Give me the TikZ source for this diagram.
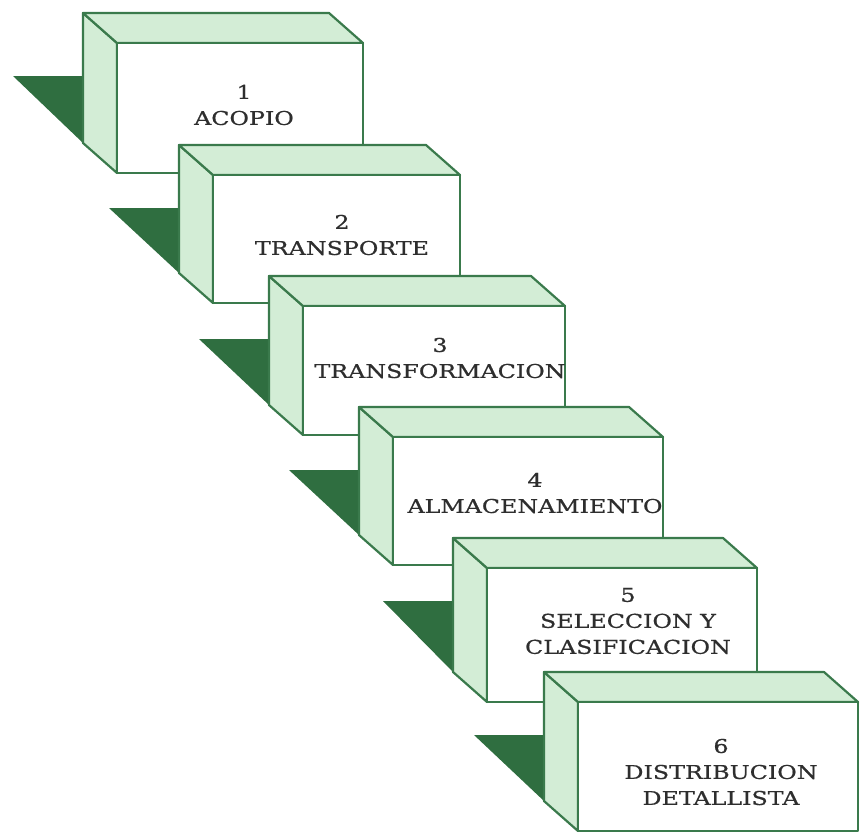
\documentclass[tikz,border=0pt]{standalone}
\usepackage{fontspec}
\newfontfamily\cajafont[FakeStretch=1.25, FakeBold=0.7]{DejaVu Serif}
\definecolor{verdeclaro}{HTML}{D3EDD6}
\definecolor{verdeborde}{HTML}{3A7A4C}
\definecolor{verdesombra}{HTML}{2F6E40}
\definecolor{gristexto}{HTML}{2E2E2E}

\begin{document}
\begin{tikzpicture}[x=1pt, y=-1pt, line join=round, sombra/.style={fill=verdesombra}, cara/.style={draw=verdeborde, line width=2.2pt, fill=verdeclaro}, frente/.style={draw=verdeborde, line width=2.2pt, fill=white}, etiqueta/.style={align=center, text=gristexto, font=\cajafont\fontsize{19}{26}\selectfont}]

\useasboundingbox (0,0) rectangle (861,833);

% cajas: izquierda/arriba/derecha/abajo de la cara frontal
\foreach \l/\t/\r/\b in {117/43/363/173, 213/175/460/303, 303/306/565/435, 393/437/663/565, 487/568/757/702, 578/702/858/831} {
  \fill[sombra] (\l-104, \t+33) -- (\l-34, \t+33) -- (\l-34, \b-30) -- cycle;
  \filldraw[cara] (\l, \t) -- (\l-34, \t-30) -- (\l-34, \b-30) -- (\l, \b) -- cycle;
  \filldraw[cara] (\l, \t) -- (\l-34, \t-30) -- (\r-34, \t-30) -- (\r, \t) -- cycle;
  \filldraw[frente] (\l, \t) rectangle (\r, \b);
}

\node[etiqueta] (acopio) at (244, 105) {1\\ACOPIO};
\node[etiqueta] (transporte) at (342, 235) {2\\TRANSPORTE};
\node[etiqueta] (transformacion) at (440, 358) {3\\TRANSFORMACION};
\node[etiqueta] (almacenamiento) at (535, 493) {4\\ALMACENAMIENTO};
\node[etiqueta] (seleccion) at (628, 621) {5\\SELECCION Y\\CLASIFICACION};
\node[etiqueta] (distribucion) at (721, 772) {6\\DISTRIBUCION\\DETALLISTA};

\end{tikzpicture}
\end{document}
